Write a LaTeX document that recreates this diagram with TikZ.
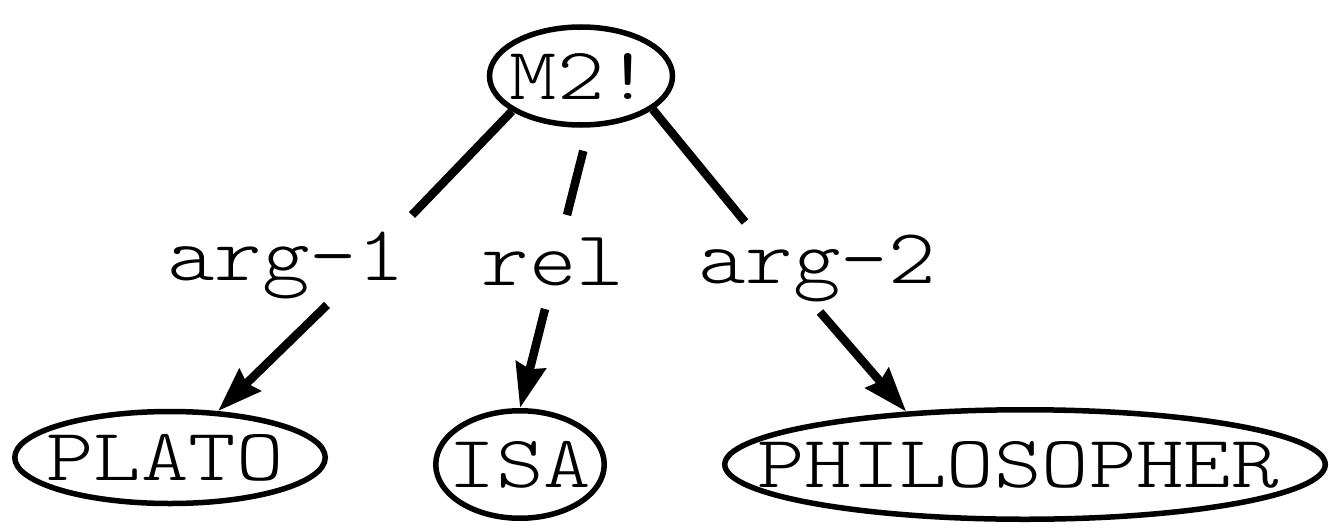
\documentclass[tikz,border=0pt]{standalone}
\usepackage{graphicx}
\usepackage{fontspec}
\usetikzlibrary{shapes.geometric,arrows.meta}

\newfontfamily\typewriter{Latin Modern Mono Light}

% typewriter text, widened to the Courier-like pitch of the figure
\newcommand{\cour}[2][1.22]{\scalebox{#1}[1]{\fontsize{74}{74}\selectfont\typewriter #2}}
\newcommand{\arclbl}[1]{\scalebox{1.16}[1]{\fontsize{78}{78}\selectfont\typewriter #1}}

\begin{document}
\begin{tikzpicture}[x=1pt,y=-1pt,
  entity/.style={draw, ellipse, line width=5.5pt, inner sep=0pt},
  arclabel/.style={anchor=base, inner sep=0pt},
  link/.style={line width=8.5pt},
  pointer/.style={line width=8.5pt, -{Stealth[length=44pt,width=30pt,inset=4pt]}}]
\useasboundingbox (0,0) rectangle (1329,527);

% nodes of the network
\node[entity, minimum width=183pt, minimum height=98pt] (m2) at (581,76)
  {\makebox[0pt]{\raisebox{-4pt}{\cour{M2!}}}};
\node[entity, minimum width=310.5pt, minimum height=92pt] (plato) at (170,457.5)
  {\makebox[0pt]{\kern-10pt\raisebox{-4pt}{\cour{PLATO}}}};
\node[entity, minimum width=168.5pt, minimum height=107.5pt] (isa) at (520,464.5)
  {\makebox[0pt]{\cour{ISA}}};
\node[entity, minimum width=600.5pt, minimum height=109.5pt] (phil) at (1025,464.5)
  {\makebox[0pt]{\kern-14pt\cour[1.22]{PHILOSOPHER}}};

% arc labels
\node[arclabel] (l1) at (286,280) {\arclbl{arg-1}};
\node[arclabel] (lr) at (553,285) {\arclbl{rel}};
\node[arclabel] (l2) at (817,283) {\arclbl{arg-2}};

% ends of the arc pieces around the labels
\coordinate (a1u) at (412,215);
\coordinate (a1l) at (327,305);
\coordinate (relu) at (567,215);
\coordinate (rell) at (545,309);
\coordinate (a2u) at (745,222);
\coordinate (a2l) at (820,312);

% arcs
\draw[link] (m2.-153) -- (a1u);
\draw[pointer] (a1l) -- (plato.44);
\draw[link, shorten <=24pt] (m2.-81) -- (relu);
\draw[pointer] (rell) -- (isa.north);
\draw[link] (m2.-25.5) -- (a2u);
\draw[pointer] (a2l) -- (phil.156);
\end{tikzpicture}
\end{document}
